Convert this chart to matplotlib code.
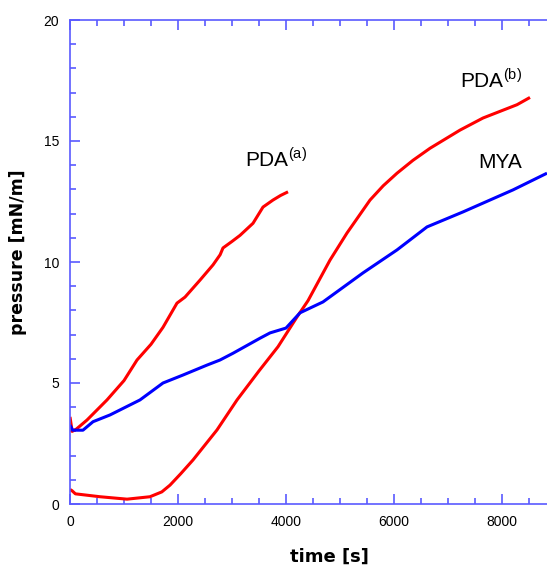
import numpy as np
import matplotlib
matplotlib.use("Agg")
import matplotlib.pyplot as plt
from matplotlib.ticker import MultipleLocator

# ==========================================
# Data
# ==========================================
pda_a_t = [0, 40, 120, 315, 685, 1000, 1241, 1500, 1722, 1981, 2130, 2407, 2648, 2780, 2833, 3000, 3148, 3389, 3574, 3759, 3900, 4037]
pda_a_p = [3.6, 3.0, 3.1, 3.47, 4.3, 5.1, 5.95, 6.6, 7.3, 8.3, 8.55, 9.25, 9.88, 10.3, 10.58, 10.85, 11.1, 11.6, 12.27, 12.56, 12.75, 12.9]

pda_b_t = [0, 37, 100, 556, 1056, 1481, 1700, 1852, 2050, 2278, 2722, 3093, 3500, 3852, 4204, 4407, 4815, 5130, 5556, 5800, 6056, 6350, 6667, 7222, 7648, 8278, 8518]
pda_b_p = [0.6, 0.55, 0.42, 0.3, 0.2, 0.3, 0.5, 0.78, 1.25, 1.82, 3.06, 4.3, 5.5, 6.5, 7.73, 8.4, 10.08, 11.2, 12.56, 13.15, 13.67, 14.2, 14.7, 15.45, 15.95, 16.5, 16.8]

mya_t = [0, 50, 240, 426, 741, 1296, 1722, 2093, 2537, 2778, 3019, 3518, 3704, 4000, 4259, 4685, 5426, 6056, 6611, 7278, 8204, 8833]
mya_p = [3.26, 3.05, 3.05, 3.4, 3.68, 4.3, 5.0, 5.33, 5.74, 5.95, 6.23, 6.85, 7.07, 7.27, 7.9, 8.35, 9.55, 10.5, 11.45, 12.07, 12.98, 13.67]

axis_color = "#5a5aff"

# ==========================================
# Plot
# ==========================================
fig = plt.figure(figsize=(5.47, 5.66), dpi=100)
ax = fig.add_axes([70 / 547, 1 - 504 / 566, 1 - 70 / 547, (504 - 20) / 566])

ax.plot(pda_a_t, pda_a_p, color="#ff0000", lw=2.2, solid_capstyle="butt")
ax.plot(pda_b_t, pda_b_p, color="#ff0000", lw=2.2, solid_capstyle="butt")
ax.plot(mya_t, mya_p, color="#0000ff", lw=2.2, solid_capstyle="butt")

ax.set_xlim(0, 8833)
ax.set_ylim(0, 20)
ax.xaxis.set_major_locator(MultipleLocator(2000))
ax.xaxis.set_minor_locator(MultipleLocator(500))
ax.yaxis.set_major_locator(MultipleLocator(5))
ax.yaxis.set_minor_locator(MultipleLocator(1))

for side in ["left", "bottom", "top"]:
    ax.spines[side].set_color(axis_color)
    ax.spines[side].set_linewidth(1.2)
ax.spines["right"].set_visible(False)

ax.tick_params(which="both", direction="in", color=axis_color, width=1.2,
               top=True, right=False, labelsize=10)
ax.tick_params(which="major", length=7)
ax.tick_params(which="minor", length=4)
for lab in ax.get_xticklabels() + ax.get_yticklabels():
    lab.set_fontfamily("Liberation Sans")
ax.tick_params(axis="x", pad=8)
ax.tick_params(axis="y", pad=8)

ax.set_xlabel("time [s]", fontsize=13, fontweight="bold")
ax.set_ylabel("pressure [mN/m]", fontsize=12.5, fontweight="bold")
ax.xaxis.set_label_coords((329 - 70) / (547 - 70), -(557 - 504) / 484, transform=ax.transAxes)
ax.yaxis.set_label_coords(-(70 - 18) / 477, (504 - 252) / 484)
ax.xaxis.label.set_va("center")
ax.yaxis.label.set_va("center")

ax.text(3240, 13.93, "PDA$^{\\mathregular{(a)}}$", fontsize=15, family="Liberation Sans")
ax.text(7222, 17.23, "PDA$^{\\mathregular{(b)}}$", fontsize=15, family="Liberation Sans")
ax.text(7556, 13.9, "MYA", fontsize=15, family="Liberation Sans")

fig.savefig("out.png", dpi=100)
